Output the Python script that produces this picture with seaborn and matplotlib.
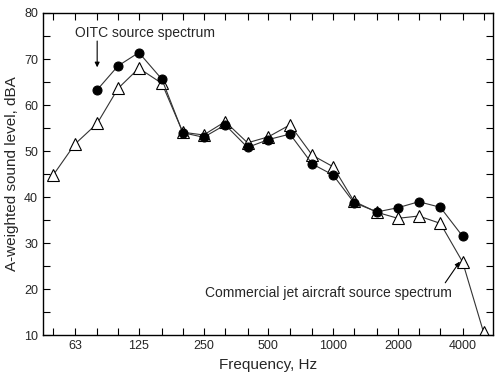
import numpy as np
import pandas as pd
import matplotlib
matplotlib.use("Agg")
import matplotlib.pyplot as plt
import seaborn as sns
from matplotlib.ticker import FixedLocator, NullFormatter, MultipleLocator

# one-third octave band centres, Hz
bands = [50, 63, 80, 100, 125, 160, 200, 250, 315, 400, 500, 630, 800,
         1000, 1250, 1600, 2000, 2500, 3150, 4000, 5000]
octave_labels = [63, 125, 250, 500, 1000, 2000, 4000]

# OITC source spectrum (80 Hz - 4000 Hz)
oitc_freq = [80, 100, 125, 160, 200, 250, 315, 400, 500, 630, 800,
             1000, 1250, 1600, 2000, 2500, 3150, 4000]
oitc_level = [63.3, 68.5, 71.4, 65.6, 54.0, 53.0, 55.7, 50.8, 52.5, 53.7,
              47.2, 44.8, 38.8, 36.8, 37.7, 39.0, 37.8, 31.5]

# commercial jet aircraft source spectrum (50 Hz - 5000 Hz)
jet_freq = bands
jet_level = [44.8, 51.5, 56.0, 63.6, 68.0, 64.7, 54.1, 53.5, 56.4, 51.8,
             53.1, 55.7, 49.1, 46.6, 39.1, 36.7, 35.4, 35.9, 34.3, 25.9, 10.7]

oitc = pd.DataFrame({'freq': oitc_freq, 'level': oitc_level})
jet = pd.DataFrame({'freq': jet_freq, 'level': jet_level})

sns.set_style('ticks')
plt.rcParams['font.family'] = ['Liberation Sans', 'DejaVu Sans']

fig, ax = plt.subplots(figsize=(5.0, 3.81), dpi=100)

sns.lineplot(data=jet, x='freq', y='level', ax=ax, color='#333333', lw=0.8,
             marker='^', markersize=8, markerfacecolor='white',
             markeredgecolor='black', markeredgewidth=0.8)
sns.lineplot(data=oitc, x='freq', y='level', ax=ax, color='#333333', lw=0.8,
             marker='o', markersize=6.5, markerfacecolor='black',
             markeredgecolor='black')

ax.set_xscale('log', base=2)
ax.set_xlim(44.8, 5535)
ax.set_ylim(10, 80)

ax.xaxis.set_major_locator(FixedLocator(octave_labels))
ax.set_xticklabels([str(v) for v in octave_labels])
ax.xaxis.set_minor_locator(FixedLocator([b for b in bands if b not in octave_labels]))
ax.xaxis.set_minor_formatter(NullFormatter())
ax.yaxis.set_major_locator(MultipleLocator(10))
ax.yaxis.set_minor_locator(MultipleLocator(5))

ax.tick_params(which='both', direction='in', top=True, right=True,
               labelsize=9, color='black', width=0.8)
ax.tick_params(which='major', length=5)
ax.tick_params(which='minor', length=5)
for s in ax.spines.values():
    s.set_linewidth(1.0)
    s.set_color('black')

ax.set_xlabel('Frequency, Hz', fontsize=11)
ax.set_ylabel('A-weighted sound level, dBA', fontsize=11)

arrow = dict(arrowstyle='-|>', color='black', lw=0.8, shrinkA=0, shrinkB=0,
             mutation_scale=7)

ax.text(63, 75.6, 'OITC source spectrum', fontsize=10, va='center', ha='left')
ax.annotate('', xy=(80, 68.2), xytext=(80, 73.9), arrowprops=arrow)

ax.text(950, 19.1, 'Commercial jet aircraft source spectrum', fontsize=10,
        va='center', ha='center')
ax.annotate('', xy=(3880, 26.0), xytext=(3320, 21.4), arrowprops=arrow)

fig.subplots_adjust(left=0.086, right=0.986, top=0.966, bottom=0.12)
fig.savefig('out.png', dpi=100)
